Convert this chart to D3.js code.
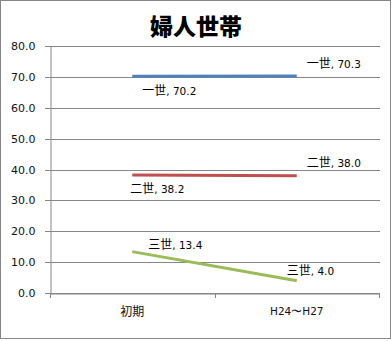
<!DOCTYPE html>
<html><head><meta charset="utf-8">
<script src="https://cdn.jsdelivr.net/npm/d3@7"></script>
<style>body{margin:0;background:#fff}svg{display:block}</style>
</head><body><svg id="c" width="392" height="341"></svg>
<script>
const categories = ["初期", "H24〜H27"];
const seriesNames = ["一世", "二世", "三世"];
const seriesValues = [[70.2, 70.3], [38.2, 38.0], [13.4, 4.0]];
const seriesColors = ["#4F81BD", "#C0504D", "#9BBB59"];
const yTicks = [0, 10, 20, 30, 40, 50, 60, 70, 80];
const title = "婦人世帯";

(function () {
const svg = d3.select("#c");
const W = 392, H = 341;
const pLeft = 50, pRight = 379, pTop = 46, pBottom = 293;
const cjk = "'Noto Sans CJK JP', 'DejaVu Sans', sans-serif";
const num = "'DejaVu Sans', sans-serif";

svg.append("rect").attr("x", 0.5).attr("y", 0.5).attr("width", W - 2).attr("height", H - 3)
  .attr("fill", "#fff").attr("stroke", "#868686");

svg.append("text").attr("x", 196).attr("y", 35).attr("text-anchor", "middle")
  .attr("font-family", cjk).attr("font-weight", "900").attr("font-size", 23).text(title);

const x = d3.scaleBand().domain(categories).range([pLeft, pRight]);
const y = d3.scaleLinear().domain([0, 80]).range([pBottom, pTop]);

svg.append("g").selectAll("line").data(yTicks).join("line")
  .attr("x1", pLeft - 5).attr("x2", pRight + 1)
  .attr("y1", d => Math.round(y(d)) + 0.5).attr("y2", d => Math.round(y(d)) + 0.5)
  .attr("stroke", "#868686").attr("stroke-width", 1);

const yAxis = d3.axisLeft(y).tickValues(yTicks).tickFormat(d3.format(".1f")).tickSize(0).tickPadding(15);
const gy = svg.append("g").attr("transform", `translate(${pLeft + 0.5},0)`).call(yAxis);
gy.select(".domain").attr("stroke", "#868686");
gy.selectAll("text").attr("font-family", num).attr("font-size", 11).attr("fill", "#111");

const xAxis = d3.axisBottom(x).tickSize(5).tickSizeOuter(0).tickPadding(9);
const gx = svg.append("g").attr("transform", `translate(0,${Math.round(pBottom) + 0.5})`).call(xAxis);
gx.select(".domain").attr("stroke", "#868686");
gx.selectAll(".tick line").attr("stroke", "none");
const bounds = [pLeft, pLeft + x.step(), pRight];
svg.append("g").selectAll("line").data(bounds).join("line")
  .attr("x1", d => Math.round(d) + 0.5).attr("x2", d => Math.round(d) + 0.5)
  .attr("y1", pBottom).attr("y2", pBottom + 5).attr("stroke", "#868686");
gx.selectAll("text").attr("font-family", cjk).attr("font-size", 12).attr("fill", "#111");
gx.selectAll("text").filter((d, i) => i === 1).attr("font-family", num).attr("font-size", 10.5);

const cx = d => x(d) + x.bandwidth() / 2;
const line = d3.line().x((d, i) => cx(categories[i])).y(d => y(d));
seriesValues.forEach((vals, s) => {
  svg.append("path").datum(vals).attr("d", line).attr("fill", "none")
    .attr("stroke", seriesColors[s]).attr("stroke-width", 3);
});

const offsets = [
  [[10, 16], [10, -11]],
  [[-2, 15], [10, -12]],
  [[16, -6], [-10, -9]]
];
seriesValues.forEach((vals, s) => {
  vals.forEach((v, i) => {
    const [dx, dy] = offsets[s][i];
    const t = svg.append("text").attr("x", cx(categories[i]) + dx).attr("y", y(v) + dy)
      .attr("font-size", 12).attr("fill", "#000")
      .attr("dominant-baseline", "middle");
    t.append("tspan").attr("font-family", cjk).text(seriesNames[s]);
    t.append("tspan").attr("font-family", num).attr("font-size", 10.5).text(", " + d3.format(".1f")(v));
  });
});
})();
</script></body></html>
